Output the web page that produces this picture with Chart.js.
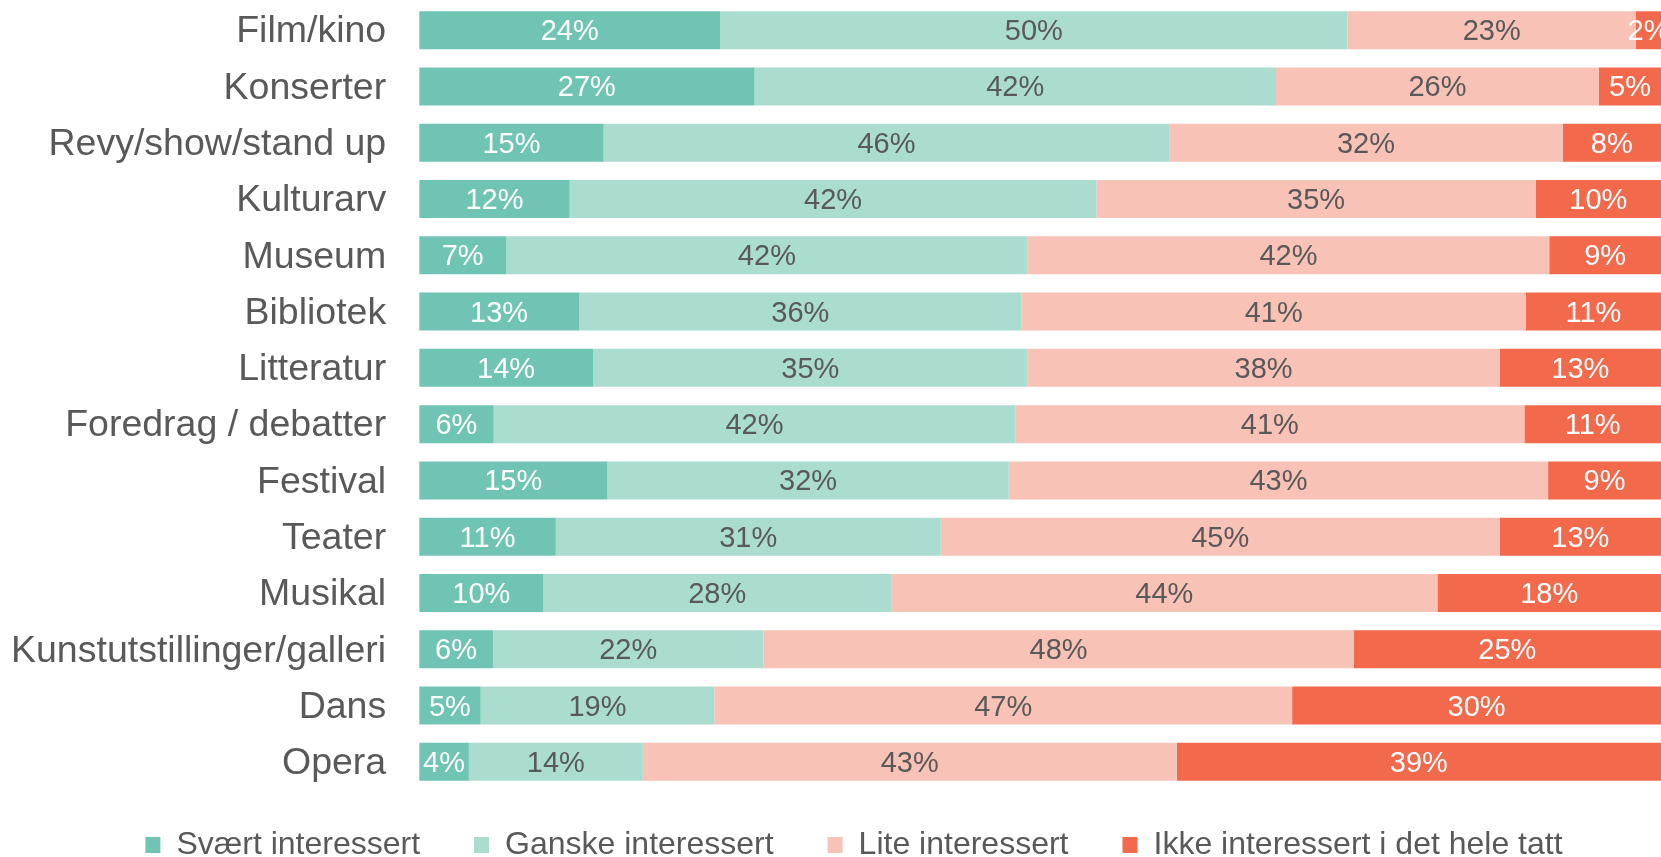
<!DOCTYPE html>
<html>
<head>
<meta charset="utf-8">
<title>Interesse for kulturtilbud</title>
<script src="https://cdn.jsdelivr.net/npm/chart.js@4.4.1/dist/chart.umd.min.js"></script>
<style>
  html, body { margin: 0; padding: 0; background: #fff; overflow: hidden; }
  #wrap { width: 1661px; height: 857px; overflow: hidden; }
</style>
</head>
<body>
<div id="wrap"><canvas id="barChart" width="1661" height="886"></canvas></div>
<script>
var kategorier = ['Film/kino', 'Konserter', 'Revy/show/stand up', 'Kulturarv', 'Museum', 'Bibliotek',
  'Litteratur', 'Foredrag / debatter', 'Festival', 'Teater', 'Musikal',
  'Kunstutstillinger/galleri', 'Dans', 'Opera'];
var svaert = [24, 27, 15, 12, 7, 13, 14, 6, 15, 11, 10, 6, 5, 4];
var ganske = [50, 42, 46, 42, 42, 36, 35, 42, 32, 31, 28, 22, 19, 14];
var lite   = [23, 26, 32, 35, 42, 41, 38, 41, 43, 45, 44, 48, 47, 43];
var ikke   = [2, 5, 8, 10, 9, 11, 13, 11, 9, 13, 18, 25, 30, 39];
var serier = ['Svært interessert', 'Ganske interessert', 'Lite interessert', 'Ikke interessert i det hele tatt'];

var farger = ['#70C4B4', '#AADCD0', '#F9C2B6', '#F2694C'];
var tekstfarger = ['#ffffff', '#595959', '#595959', '#ffffff'];

// 100 % stablet: hver rad skaleres til sin egen sum
var rader = [svaert, ganske, lite, ikke];
var summer = kategorier.map(function(k, j){
    return svaert[j] + ganske[j] + lite[j] + ikke[j];
});

var datasets = rader.map(function(verdier, i){
    return {
        label: serier[i],
        verdier: verdier,
        data: verdier.map(function(v, j){ return v / summer[j] * 100; }),
        backgroundColor: farger[i],
        borderWidth: 0,
        barPercentage: 0.675,
        categoryPercentage: 1
    };
});

// prosenttall midt i hvert segment
var verdiEtiketter = {
    id: 'verdiEtiketter',
    afterDatasetsDraw: function(chart){
        var ctx = chart.ctx;
        ctx.save();
        ctx.font = '29px "Liberation Sans", Arial, sans-serif';
        ctx.textAlign = 'center';
        ctx.textBaseline = 'middle';
        chart.data.datasets.forEach(function(ds, i){
            chart.getDatasetMeta(i).data.forEach(function(bar, j){
                ctx.fillStyle = tekstfarger[i];
                ctx.fillText(ds.verdier[j] + '%', (bar.x + bar.base) / 2, bar.y + 2);
            });
        });
        ctx.restore();
    }
};

// legenden litt opp og mot høyre
var flyttLegende = {
    id: 'flyttLegende',
    afterLayout: function(chart){
        var lg = chart.legend;
        lg.top -= 15;
        lg.bottom -= 15;
        lg.left += 18;
        lg.right += 18;
    }
};

Chart.defaults.font.family = '"Liberation Sans", Arial, sans-serif';

var chartDiv = document.getElementById('barChart');
var myChart = new Chart(chartDiv, {
    type: 'bar',
    data: {
        labels: kategorier,
        datasets: datasets
    },
    options: {
        indexAxis: 'y',
        responsive: false,
        animation: false,
        layout: { padding: { left: 11, top: 2, right: 0, bottom: 0 } },
        scales: {
            x: { stacked: true, min: 0, max: 100, display: false },
            y: {
                stacked: true,
                // usynlige tick-streker gir avstanden mellom navn og søyle
                grid: { display: false, drawTicks: true, tickLength: 33 },
                border: { display: false },
                ticks: {
                    color: '#595959',
                    font: { size: 37.5, lineHeight: 0.1 },
                    padding: 0,
                    labelOffset: 2,
                    autoSkip: false
                }
            }
        },
        plugins: {
            legend: {
                position: 'bottom',
                labels: { boxWidth: 15, boxHeight: 16, padding: 54, color: '#595959', font: { size: 32 } }
            },
            tooltip: { enabled: false }
        }
    },
    plugins: [verdiEtiketter, flyttLegende]
});
</script>
</body>
</html>
